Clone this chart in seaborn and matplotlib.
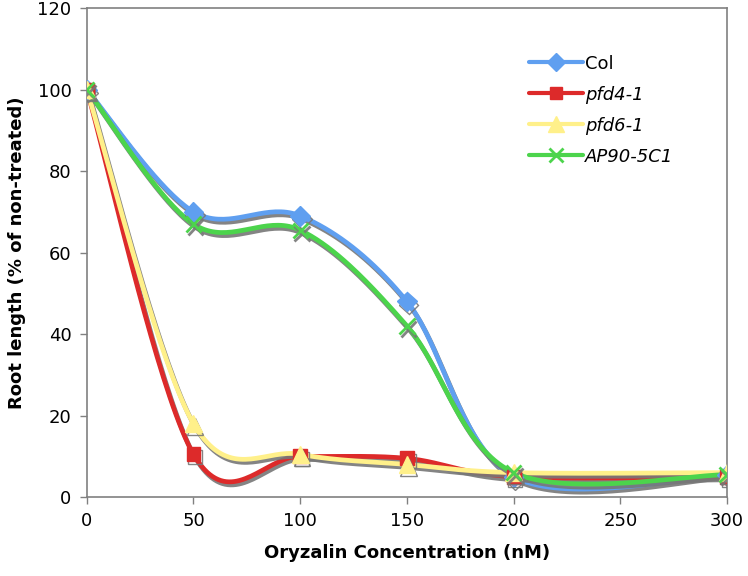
import numpy as np
import pandas as pd
import matplotlib
matplotlib.use('Agg')
import matplotlib.pyplot as plt
import matplotlib.patheffects as pe
from matplotlib.lines import Line2D
import seaborn as sns

# --- Data ---
conc = [0, 50, 100, 150, 200, 300]
col = [100, 70, 69, 48, 5, 5.5]
pfd4 = [100, 10.5, 10, 9.5, 5, 5]
pfd6 = [100, 18, 10.5, 8, 6, 6]
ap90 = [100, 67, 65.5, 42, 6, 5.5]

names = ['Col', 'pfd4-1', 'pfd6-1', 'AP90-5C1']
series = [col, pfd4, pfd6, ap90]
colors = ['#5f9ff0', '#dd2a2a', '#fff08a', '#4cd44c']
markers = ['D', 's', '^', 'x']
msizes = [10, 10, 12, 11]


def excel_smooth(xs, ys, n=40):
    # bezier smoothing like Excel "smoothed line", done in screen-ish units
    sx, sy = 640 / 300, 489 / 120
    P = np.column_stack([np.array(xs) * sx, np.array(ys) * sy])
    pts = []
    m = len(P)
    for i in range(m - 1):
        p0 = P[max(i - 1, 0)]
        p1 = P[i]
        p2 = P[i + 1]
        p3 = P[min(i + 2, m - 1)]
        c1 = p1 + (p2 - p0) / 6
        c2 = p2 - (p3 - p1) / 6
        t = np.linspace(0, 1, n)[:, None]
        seg = ((1 - t) ** 3) * p1 + 3 * ((1 - t) ** 2) * t * c1 + 3 * (1 - t) * t ** 2 * c2 + t ** 3 * p2
        pts.append(seg if i == 0 else seg[1:])
    pts = np.vstack(pts)
    return pts[:, 0] / sx, pts[:, 1] / sy


rows = []
for name, vals in zip(names, series):
    sx_, sy_ = excel_smooth(conc, vals)
    for k, (a, b) in enumerate(zip(sx_, sy_)):
        rows.append({'name': name, 'x': a, 'y': b, 'k': k})
df = pd.DataFrame(rows)

sns.set_theme(style='white')
plt.rcParams['font.family'] = ['DejaVu Sans']

fig = plt.figure(figsize=(7.48, 5.76), dpi=100)
ax = fig.add_axes([0.116, 0.137, 0.856, 0.849])

shadow = [pe.SimpleLineShadow(offset=(1.2, -2.2), shadow_color='#777777', alpha=0.9), pe.Normal()]

for name, c, mk, ms, vals in zip(names, colors, markers, msizes, series):
    sub = df[df['name'] == name]
    sns.lineplot(data=sub, x='x', y='y', sort=False, estimator=None, color=c,
                 linewidth=3.4, ax=ax, legend=False, path_effects=shadow, zorder=2)
    ax.plot(conc, vals, linestyle='none', marker=mk, markersize=ms, color=c,
            markeredgecolor=c, markeredgewidth=2 if mk == 'x' else 1,
            path_effects=shadow, zorder=3)

ax.set_xlim(0, 300)
ax.set_ylim(0, 120)
ax.set_xticks([0, 50, 100, 150, 200, 250, 300])
ax.set_yticks([0, 20, 40, 60, 80, 100, 120])
ax.tick_params(axis='both', labelsize=13, direction='out', length=5, width=1,
               color='#808080', labelcolor='black', bottom=True, left=True, pad=6)
for s in ax.spines.values():
    s.set_color('#808080')
    s.set_linewidth(1.2)

ax.set_xlabel('Oryzalin Concentration (nM)', fontsize=13, fontweight='bold',
              labelpad=10, color='black')
ax.set_ylabel('Root length (% of non-treated)', fontsize=13, fontweight='bold',
              labelpad=8, color='black')

handles = [Line2D([], [], color=c, marker=mk, markersize=ms - 1, linewidth=3,
                  markeredgecolor=c, markeredgewidth=2 if mk == 'x' else 1)
           for c, mk, ms in zip(colors, markers, msizes)]
leg = ax.legend(handles, names, loc='upper left', bbox_to_anchor=(0.69, 0.905),
                frameon=False, fontsize=13, handlelength=3.0, handletextpad=0.15,
                labelspacing=0.72, borderpad=0, borderaxespad=0)
for t in leg.get_texts():
    t.set_color('black')
for t in leg.get_texts()[1:]:
    t.set_fontstyle('italic')

fig.savefig('out.png', dpi=100)
